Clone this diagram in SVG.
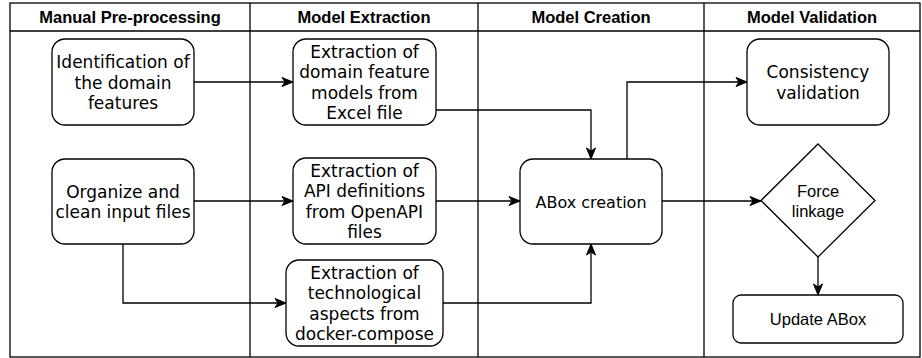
<svg xmlns="http://www.w3.org/2000/svg" width="922" height="358" viewBox="0 0 922 358">
<defs>
<style>
.lane{fill:none;stroke:#000;stroke-width:1.3}
.hdr{font-family:"Liberation Sans",Arial,sans-serif;font-weight:bold;font-size:16.5px;text-anchor:middle;fill:#000}
.box{fill:#fff;stroke:#000;stroke-width:1.3}
.t{font-family:"DejaVu Sans",Verdana,sans-serif;font-size:17px;text-anchor:middle;fill:#000}
.ta{font-family:"Liberation Sans",Arial,sans-serif;font-size:16.5px;text-anchor:middle;fill:#000}
.edge{fill:none;stroke:#000;stroke-width:1.3}
</style>
<marker id="arr" markerUnits="userSpaceOnUse" markerWidth="13" markerHeight="11" refX="12" refY="5.5" orient="auto">
<path d="M1,1 L12,5.5 L1,10 L4,5.5 Z" fill="#000" stroke="#000" stroke-width="1"/>
</marker>
</defs>
<rect width="922" height="358" fill="#fff"/>
<g id="pool">
<rect class="lane" x="10" y="3" width="910" height="354"/>
<line class="lane" x1="10" y1="31" x2="920" y2="31"/>
<line class="lane" x1="250" y1="3" x2="250" y2="357"/>
<line class="lane" x1="478" y1="3" x2="478" y2="357"/>
<line class="lane" x1="704" y1="3" x2="704" y2="357"/>
<text class="hdr" x="130" y="22.5">Manual Pre-processing</text>
<text class="hdr" x="364" y="22.5">Model Extraction</text>
<text class="hdr" x="591" y="22.5">Model Creation</text>
<text class="hdr" x="812" y="22.5">Model Validation</text>
</g>
<g id="edges">
<path class="edge" d="M194,82 H293" marker-end="url(#arr)"/>
<path class="edge" d="M194,201 H293" marker-end="url(#arr)"/>
<path class="edge" d="M123,244 V303 H286" marker-end="url(#arr)"/>
<path class="edge" d="M436,110 H591 V159" marker-end="url(#arr)"/>
<path class="edge" d="M436,201 H520" marker-end="url(#arr)"/>
<path class="edge" d="M443,303 H591 V244" marker-end="url(#arr)"/>
<path class="edge" d="M627,159 V82 H747" marker-end="url(#arr)"/>
<path class="edge" d="M662,201 H761" marker-end="url(#arr)"/>
<path class="edge" d="M818,257 V295" marker-end="url(#arr)"/>
</g>
<g id="identify">
<rect class="box" x="52" y="39" width="142" height="86" rx="13"/>
<text class="t" x="123" y="68">Identification of</text>
<text class="t" x="123" y="88.5">the domain</text>
<text class="t" x="123" y="109">features</text>
</g>
<g id="organize">
<rect class="box" x="52" y="159" width="142" height="85" rx="13"/>
<text class="t" x="123" y="197.5">Organize and</text>
<text class="t" x="123" y="218">clean input files</text>
</g>
<g id="extract-domain">
<rect class="box" x="293" y="39" width="143" height="86" rx="13"/>
<text class="t" x="364.5" y="57.5">Extraction of</text>
<text class="t" x="364.5" y="78">domain feature</text>
<text class="t" x="364.5" y="98.5">models from</text>
<text class="t" x="364.5" y="119">Excel file</text>
</g>
<g id="extract-api">
<rect class="box" x="293" y="158" width="143" height="86" rx="13"/>
<text class="t" x="364.5" y="176.5">Extraction of</text>
<text class="t" x="364.5" y="197">API definitions</text>
<text class="t" x="364.5" y="217.5">from OpenAPI</text>
<text class="t" x="364.5" y="238">files</text>
</g>
<g id="extract-tech">
<rect class="box" x="286" y="260" width="157" height="86" rx="13"/>
<text class="t" x="364.5" y="278.5">Extraction of</text>
<text class="t" x="364.5" y="299">technological</text>
<text class="t" x="364.5" y="319.5">aspects from</text>
<text class="t" x="364.5" y="340">docker-compose</text>
</g>
<g id="abox">
<rect class="box" x="520" y="159" width="142" height="85" rx="13"/>
<text class="t" x="591" y="207.5" style="font-size:16px">ABox creation</text>
</g>
<g id="consistency">
<rect class="box" x="747" y="39" width="142" height="86" rx="13"/>
<text class="t" x="818" y="78">Consistency</text>
<text class="t" x="818" y="98.5">validation</text>
</g>
<g id="force">
<polygon class="box" points="818,144 875,200.5 818,257 761,200.5"/>
<text class="ta" x="818" y="196.5">Force</text>
<text class="ta" x="818" y="216.5">linkage</text>
</g>
<g id="update">
<rect class="box" x="733" y="295" width="170" height="48" rx="8"/>
<text class="ta" x="818" y="325">Update ABox</text>
</g>
</svg>
